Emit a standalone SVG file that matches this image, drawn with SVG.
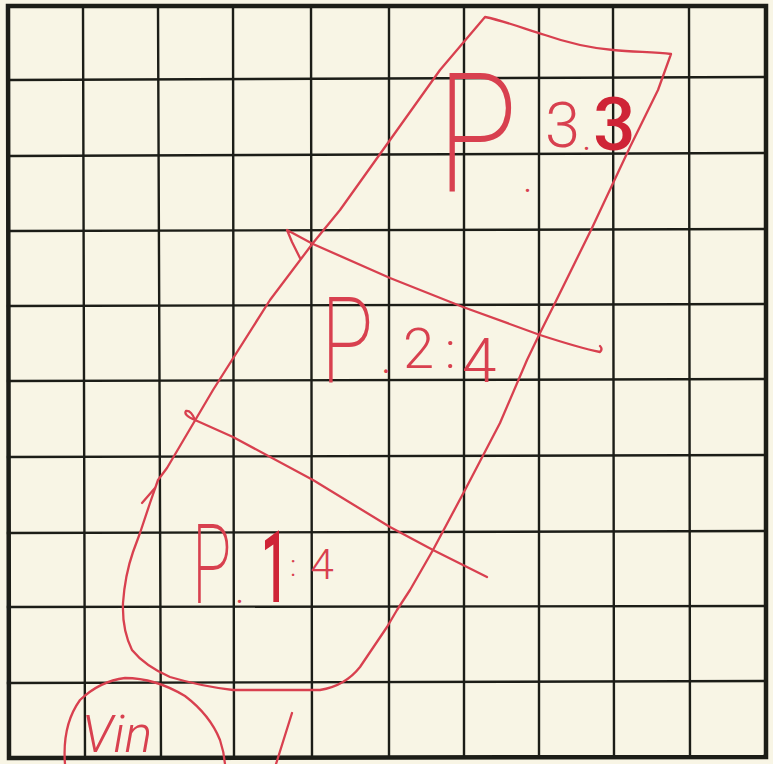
<svg xmlns="http://www.w3.org/2000/svg" width="773" height="764" viewBox="0 0 773 764">
<style>
.grid{stroke:#1c1d17;stroke-width:2.4;fill:none;stroke-linecap:square}
.border{stroke:#1c1d17;stroke-width:4.5;fill:none}
.ink{stroke:#d8404f;stroke-width:2.3;fill:none;stroke-linecap:round;stroke-linejoin:round}
.lbl{fill:#d8404f;font-family:Roboto,Inter,"DejaVu Sans",sans-serif;font-weight:300}
.thin{font-weight:200}
.bold{fill:#cf2436;font-weight:500}
</style>
<rect x="0" y="0" width="773" height="764" fill="#f8f5e5"/>
<g id="grid">
<path class="grid" d="M83,6 L85,757 M158,6 L161,757 M233,6 L234,757 M311,6 L312,757 M389,6 L389,757 M464,6 L464,757 M539,6 L539,757 M613,6 L614,757 M689,6 L690,757"/>
<path class="grid" d="M8,80 L766,77 M8,156 L766,153 M8,231 L766,229 M8,306 L766,304 M8,381 L766,379 M8,457 L766,455 M8,533 L766,531 M8,607 L766,606 M8,683 L766,681"/>
<path class="border" d="M8,6 L766,6 L766,757 L9,758 Z"/>
</g>
<g id="outline">
<path class="ink" d="M485,17 C505,21 525,29 545,35 C565,42 590,48 613,50 C635,52 655,52 671,54 L658,90 L630,147 L592,228 L555,303 L540,333 L527,360 L500,423 L465,490 L433,550 L410,590 L397,610 L387,627 L360,667 Q345,686 320,690 L233,690 Q200,686 170,677 Q145,666 132,650 Q122,630 123,603 Q125,575 133,552 L140,533 L150,503 L158,480 L167,468 L213,390 L270,300 L313,243 L340,210 L440,70 Z"/>
<path class="ink" d="M142,503 L155,488"/>
</g>
<g id="dividers">
<path class="ink" d="M300,258 L292,242 L287,230 L313,244 L390,278 L463,307 L540,335 Q580,348 600,352 Q603,349 600,346"/>
<path class="ink" d="M195,420 Q183,415 186,411 Q191,410 195,420 L233,437 L313,480 L390,527 L433,550 L487,577"/>
</g>
<g id="label-p33">
<text class="lbl thin" transform="translate(437,192) scale(0.79,1)" font-size="168">P</text>
<text class="lbl"><tspan x="523" y="192" font-size="40">.</tspan><tspan x="545" y="147" font-size="63">3</tspan><tspan x="582" y="150" font-size="40">.</tspan><tspan class="bold" x="593" y="150" font-size="75">3</tspan></text>
</g>
<g id="label-p24">
<text class="lbl thin" transform="translate(321,383) scale(0.72,1)" font-size="120">P</text>
<text class="lbl"><tspan x="381" y="373" font-size="44">.</tspan><tspan x="403" y="368" font-size="56">2</tspan><tspan x="445" y="368" font-size="50">:</tspan><tspan x="462" y="382" font-size="62">4</tspan></text>
</g>
<g id="label-p14">
<text class="lbl thin" transform="translate(192,603) scale(0.58,1)" font-size="112">P</text>
<text class="lbl" x="235" y="603" font-size="40">.</text>
<text class="lbl bold" transform="translate(261,602) scale(0.48,1)" font-size="100" font-weight="700">1</text>
<text class="lbl"><tspan x="290" y="576" font-size="30">:</tspan><tspan x="310" y="579" font-size="43">4</tspan></text>
</g>
<g id="label-vin">
<path class="ink" d="M65,764 Q62,725 80,700 Q100,681 125,678 Q155,678 185,696 Q210,715 220,740 Q224,752 225,764"/>
<text class="lbl" x="82" y="752" font-size="52" font-style="italic">Vin</text>
<path class="ink" d="M292,713 L276,764"/>
</g>
</svg>
